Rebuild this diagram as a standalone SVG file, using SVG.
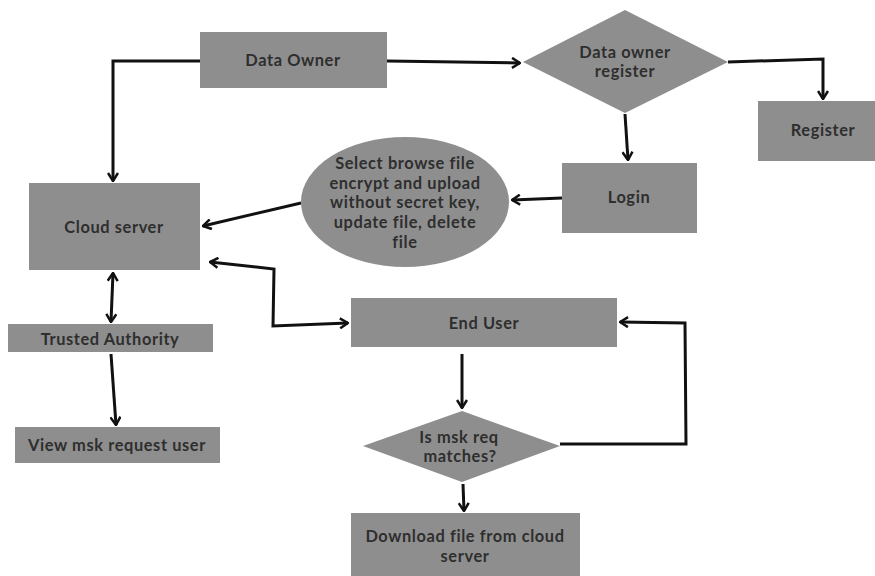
<svg xmlns="http://www.w3.org/2000/svg" width="875" height="576" viewBox="0 0 875 576">
<style>
.n{fill:#8e8e8e}
.t{font-family:Lato,"Open Sans","Liberation Sans",sans-serif;font-size:16.4px;font-weight:700;letter-spacing:0.6px;fill:#2e2e2e;text-anchor:middle}
.c{fill:none;stroke:#111;stroke-width:3;stroke-linejoin:miter}
</style>
<defs>
<marker id="a" viewBox="0 0 10 12" refX="9" refY="6" markerWidth="10" markerHeight="12" markerUnits="userSpaceOnUse" orient="auto-start-reverse">
<path d="M1,1 L9,6 L1,11" fill="none" stroke="#111" stroke-width="2.5"/>
</marker>
</defs>
<rect width="875" height="576" fill="#fff"/>
<g id="connectors">
<path class="c" d="M200,61 H113 V181" marker-end="url(#a)"/>
<path class="c" d="M387,61 L520,63" marker-end="url(#a)"/>
<path class="c" d="M728,62 L823,59 V99" marker-end="url(#a)"/>
<path class="c" d="M625,114 L628,160" marker-end="url(#a)"/>
<path class="c" d="M562,198 L512,200" marker-end="url(#a)"/>
<path class="c" d="M301,203 L203,226" marker-end="url(#a)"/>
<path class="c" d="M210,262 L274,269 L273,326 L348,323" marker-start="url(#a)" marker-end="url(#a)"/>
<path class="c" d="M113,273 L111,322" marker-start="url(#a)" marker-end="url(#a)"/>
<path class="c" d="M111,354 L116,425" marker-end="url(#a)"/>
<path class="c" d="M462,354 V408" marker-end="url(#a)"/>
<path class="c" d="M560,444 L686,444 L685,323 L620,322" marker-end="url(#a)"/>
<path class="c" d="M463,484 L464,511" marker-end="url(#a)"/>
</g>
<g id="data-owner"><rect class="n" x="200" y="32" width="187" height="56"/><text class="t" x="293" y="66">Data Owner</text></g>
<g id="data-owner-register"><polygon class="n" points="523,62 625,10 728,62 625,113"/><text class="t" x="625" y="58">Data owner</text><text class="t" x="625" y="77">register</text></g>
<g id="register"><rect class="n" x="758" y="101" width="117" height="60"/><text class="t" x="823" y="136">Register</text></g>
<g id="login"><rect class="n" x="562" y="163" width="135" height="70"/><text class="t" x="629" y="203">Login</text></g>
<g id="select-browse"><ellipse class="n" cx="405" cy="202" rx="104" ry="65"/>
<text class="t" x="405" y="169">Select browse file</text>
<text class="t" x="405" y="189">encrypt and upload</text>
<text class="t" x="405" y="208">without secret key,</text>
<text class="t" x="405" y="228">update file, delete</text>
<text class="t" x="405" y="248">file</text></g>
<g id="cloud-server"><rect class="n" x="29" y="183" width="171" height="87"/><text class="t" x="114" y="233">Cloud server</text></g>
<g id="trusted-authority"><rect class="n" x="8" y="324" width="205" height="28"/><text class="t" x="110" y="345">Trusted Authority</text></g>
<g id="view-msk"><rect class="n" x="15" y="427" width="205" height="36"/><text class="t" x="117" y="451">View msk request user</text></g>
<g id="end-user"><rect class="n" x="351" y="298" width="266" height="49"/><text class="t" x="484" y="329">End User</text></g>
<g id="msk-match"><polygon class="n" points="363,446 462,411 560,446 462,482"/><text class="t" x="459" y="443">Is msk req</text><text class="t" x="460" y="462">matches?</text></g>
<g id="download"><rect class="n" x="351" y="513" width="229" height="63"/><text class="t" x="465" y="542">Download file from cloud</text><text class="t" x="465" y="562">server</text></g>
</svg>
